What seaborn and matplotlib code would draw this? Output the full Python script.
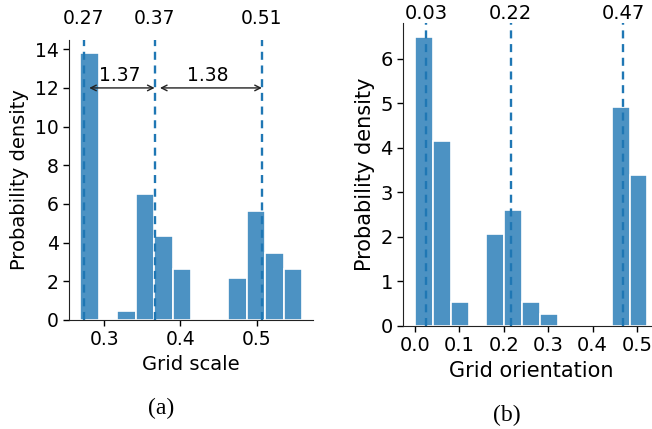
import numpy as np
import pandas as pd
import seaborn as sns
import matplotlib.pyplot as plt

# grid scale histogram (densities)
scale_edges = np.linspace(0.268, 0.560, 13)
scale_density = [13.79, 0.0, 0.48, 6.5, 4.34, 2.62, 0.0, 0.0, 2.19, 5.64, 3.47, 2.62]
scale_peaks = [0.273, 0.366, 0.507]
scale_ratios = ["1.37", "1.38"]

# grid orientation histogram
orient_edges = np.linspace(0.0, 0.5236, 14)
orient_density = [6.49, 4.15, 0.53, 0.0, 2.07, 2.61, 0.53, 0.27, 0.0, 0.0, 0.0, 4.93, 3.39]
orient_peaks = [0.026, 0.216, 0.469]

sns.set_style("ticks")
plt.rcParams['font.family'] = ['DejaVu Sans']
for key in ['text.color', 'axes.labelcolor', 'xtick.color', 'ytick.color']:
    plt.rcParams[key] = 'black'
plt.rcParams['axes.edgecolor'] = '#222222'

blue = '#1f77b4'
fig = plt.figure(figsize=(6.52, 4.29), dpi=100)
ax1 = fig.add_axes([0.1058, 0.2541, 0.3747, 0.6527])
ax2 = fig.add_axes([0.6186, 0.2401, 0.3922, 0.7070])


def draw_hist(ax, edges, density, peaks, top_y, fs_tick, fs_label):
    df = pd.DataFrame({'x': (edges[:-1] + edges[1:]) / 2, 'w': density})
    sns.histplot(data=df, x='x', weights='w', bins=len(density),
                 binrange=(edges[0], edges[-1]), stat='count',
                 color=blue, alpha=0.8, edgecolor='white', linewidth=1.2, ax=ax)
    for p in peaks:
        ax.axvline(p, color=blue, linestyle=(0, (3.4, 2.4)), linewidth=1.7)
        ax.text(p, top_y, f"{p:.2f}", transform=ax.get_xaxis_transform(),
                ha='center', va='center', fontsize=fs_tick)
    ax.set_ylabel('Probability density', fontsize=fs_label)
    ax.tick_params(labelsize=fs_tick, length=4, width=1)
    sns.despine(ax=ax)


draw_hist(ax1, scale_edges, scale_density, scale_peaks, 1.075, 13.5, 14)
ax1.set_xlabel('Grid scale', fontsize=14)
ax1.set_xticks([0.3, 0.4, 0.5])
ax1.set_yticks(range(0, 15, 2))
for i, lab in enumerate(scale_ratios):
    x0, x1 = scale_peaks[i], scale_peaks[i + 1]
    ax1.annotate('', xy=(x1, 12), xytext=(x0 + 0.007, 12),
                 arrowprops=dict(arrowstyle='<->', color='#222222', lw=1,
                                 shrinkA=0, shrinkB=0))
    ax1.text((x0 + x1) / 2, 12.15, lab, ha='center', va='bottom', fontsize=13.5)

draw_hist(ax2, orient_edges, orient_density, orient_peaks, 1.03, 14, 15)
ax2.set_xlabel('Grid orientation', fontsize=15)
ax2.set_xticks([0.0, 0.1, 0.2, 0.3, 0.4, 0.5])

fig.text(161.5 / 652, 1 - 408 / 429, '(a)', ha='center', va='center',
         fontsize=17, family='Liberation Serif')
fig.text(507 / 652, 1 - 415 / 429, '(b)', ha='center', va='center',
         fontsize=17, family='Liberation Serif')

fig.savefig('out.png', dpi=100)
